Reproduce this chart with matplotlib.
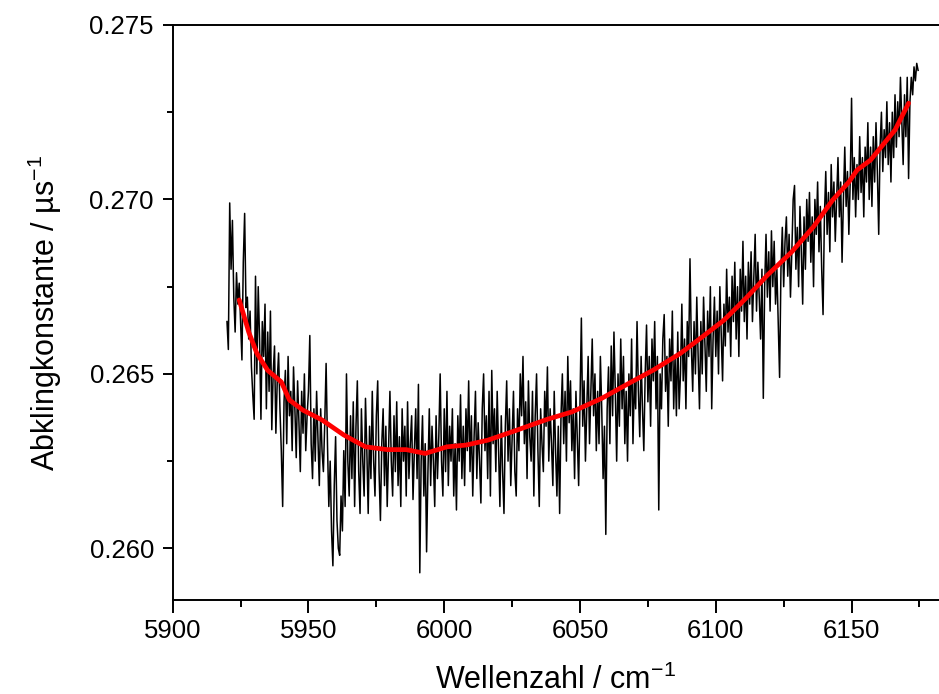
import numpy as np
import matplotlib
matplotlib.use("Agg")
import matplotlib.pyplot as plt
from matplotlib.ticker import MultipleLocator

plt.rcParams['font.family'] = ['Liberation Sans', 'DejaVu Sans']
plt.rcParams['mathtext.fontset'] = 'custom'
plt.rcParams['mathtext.rm'] = 'Liberation Sans'
plt.rcParams['mathtext.it'] = 'Liberation Sans:italic'
plt.rcParams['mathtext.bf'] = 'Liberation Sans:bold'

# measured spectrum: wavenumber grid start/step (cm^-1)
wn_start = 5920.0
wn_step = 0.5
# decay constant in units of 1e-4 us^-1, one row = 5 cm^-1
k_raw = [
    2665, 2657, 2699, 2680, 2694, 2672, 2662, 2679, 2670, 2676,
    2665, 2654, 2682, 2696, 2669, 2672, 2660, 2668, 2652, 2644,
    2637, 2678, 2650, 2675, 2660, 2637, 2665, 2655, 2670, 2640,
    2662, 2645, 2668, 2634, 2650, 2658, 2633, 2648, 2656, 2640,
    2628, 2612, 2642, 2651, 2630, 2655, 2638, 2645, 2628, 2652,
    2640, 2626, 2648, 2636, 2622, 2645, 2633, 2650, 2628, 2638,
    2645, 2661, 2630, 2620, 2640, 2625, 2645, 2632, 2618, 2640,
    2628, 2622, 2636, 2653, 2630, 2612, 2625, 2605, 2595, 2618,
    2632, 2608, 2600, 2598, 2615, 2605, 2628, 2612, 2650, 2625,
    2615, 2638, 2620, 2642, 2612, 2635, 2648, 2622, 2610, 2640,
    2625, 2615, 2643, 2628, 2610, 2635, 2620, 2645, 2625, 2615,
    2638, 2648, 2622, 2608, 2630, 2640, 2618, 2635, 2612, 2628,
    2645, 2625, 2615, 2638, 2622, 2642, 2618, 2632, 2612, 2640,
    2625, 2635, 2615, 2642, 2620, 2630, 2638, 2614, 2628, 2640,
    2620, 2647, 2593, 2625, 2638, 2615, 2630, 2599, 2622, 2640,
    2618, 2635, 2625, 2612, 2638, 2620, 2632, 2650, 2625, 2615,
    2640, 2622, 2645, 2618, 2635, 2625, 2640, 2615, 2630, 2611,
    2638, 2625, 2644, 2620, 2635, 2618, 2640, 2628, 2648, 2622,
    2638, 2615, 2632, 2645, 2620, 2636, 2625, 2613, 2640, 2650,
    2628, 2638, 2620, 2645, 2615, 2651, 2630, 2640, 2622, 2645,
    2628, 2612, 2638, 2622, 2610, 2635, 2648, 2625, 2640, 2618,
    2632, 2645, 2622, 2615, 2640, 2628, 2650, 2638, 2655, 2630,
    2642, 2620, 2648, 2632, 2625, 2645, 2615, 2638, 2650, 2628,
    2612, 2640, 2630, 2622, 2645, 2635, 2652, 2625, 2640, 2630,
    2618, 2645, 2628, 2615, 2635, 2610, 2638, 2650, 2630, 2645,
    2625, 2655, 2636, 2648, 2628, 2640, 2620, 2645, 2632, 2618,
    2642, 2666, 2635, 2648, 2625, 2640, 2655, 2630, 2645, 2660,
    2638, 2650, 2628, 2645, 2630, 2655, 2640, 2620, 2635, 2604,
    2640, 2652, 2630, 2658, 2638, 2662, 2645, 2625, 2650, 2635,
    2660, 2640, 2655, 2630, 2645, 2625, 2650, 2638, 2660, 2630,
    2648, 2640, 2665, 2645, 2632, 2655, 2640, 2628, 2650, 2664,
    2642, 2655, 2635, 2660, 2648, 2665, 2640, 2655, 2611, 2650,
    2640, 2660, 2667, 2645, 2655, 2635, 2660, 2648, 2668, 2640,
    2655, 2638, 2662, 2640, 2650, 2670, 2648, 2660, 2640, 2665,
    2655, 2683, 2658, 2645, 2665, 2650, 2672, 2655, 2640, 2665,
    2650, 2672, 2658, 2645, 2668, 2655, 2675, 2640, 2660, 2672,
    2655, 2668, 2650, 2675, 2662, 2648, 2670, 2658, 2680, 2662,
    2672, 2655, 2678, 2665, 2682, 2660, 2675, 2655, 2680, 2668,
    2688, 2665, 2678, 2660, 2682, 2670, 2685, 2665, 2678, 2690,
    2668, 2682, 2672, 2660, 2680, 2643, 2675, 2690, 2672, 2685,
    2668, 2691, 2675, 2688, 2670, 2680, 2665, 2649, 2680, 2692,
    2675, 2688, 2695, 2678, 2690, 2672, 2685, 2700, 2704, 2680,
    2692, 2675, 2698, 2685, 2670, 2695, 2680, 2700, 2688, 2702,
    2682, 2695, 2675, 2700, 2690, 2705, 2685, 2698, 2680, 2667,
    2695, 2708, 2690, 2702, 2685, 2710, 2695, 2705, 2688, 2700,
    2712, 2695, 2705, 2682, 2700, 2715, 2698, 2708, 2690, 2705,
    2729, 2700, 2712, 2695, 2710, 2700, 2718, 2702, 2712, 2695,
    2715, 2705, 2722, 2700, 2715, 2698, 2718, 2705, 2722, 2708,
    2690, 2715, 2725, 2708, 2720, 2712, 2728, 2710, 2722, 2705,
    2725, 2712, 2730, 2715, 2728, 2718, 2735, 2722, 2710, 2730,
    2718, 2735, 2706, 2728, 2735, 2730, 2738, 2734, 2739, 2737,
]

# smoothed curve (red)
smooth_x = [5924.5, 5926, 5928, 5931, 5935, 5940, 5943, 5948, 5955, 5963,
            5971, 5979, 5986, 5993, 6001, 6008, 6016, 6025, 6038, 6047,
            6058, 6068, 6077, 6087, 6095, 6103, 6111, 6119, 6128, 6136,
            6143, 6149, 6152, 6157, 6162, 6166, 6171]
smooth_y = [0.26712, 0.26673, 0.26620, 0.26559, 0.26510, 0.26477, 0.26425,
            0.26396, 0.26368, 0.26325, 0.26291, 0.26283, 0.26283, 0.26272,
            0.26291, 0.26296, 0.26310, 0.26334, 0.26370, 0.26391, 0.26430,
            0.26473, 0.26511, 0.26559, 0.26606, 0.26654, 0.26716, 0.26783,
            0.26850, 0.26922, 0.26998, 0.27050, 0.27084, 0.27113, 0.27161,
            0.27199, 0.27276]

x_ticks = [5900, 5950, 6000, 6050, 6100, 6150]
y_ticks = [0.260, 0.265, 0.270, 0.275]

k = np.array(k_raw) / 10000.0
wn = wn_start + wn_step * np.arange(len(k))

fig = plt.figure(figsize=(9.39, 6.94), dpi=100)
ax = fig.add_axes([0.1839, 0.13545, 0.8161, 0.82853])

ax.plot(wn, k, color='black', lw=1.1)
ax.plot(smooth_x, smooth_y, color='#ff0000', lw=3.4, solid_capstyle='round')

ax.set_xlim(5900, 6182.2)
ax.set_ylim(0.25852, 0.275)
ax.set_xticks(x_ticks)
ax.set_yticks(y_ticks)
ax.set_xticklabels([str(v) for v in x_ticks])
ax.set_yticklabels([f"{v:.3f}" for v in y_ticks])
ax.xaxis.set_minor_locator(MultipleLocator(25))
ax.yaxis.set_minor_locator(MultipleLocator(0.0025))

for s in ['left', 'bottom', 'top']:
    ax.spines[s].set_linewidth(1.4)
ax.spines['right'].set_visible(False)

ax.tick_params(axis='x', which='major', direction='out', length=9, width=1.4,
               labelsize=18.5, pad=5, top=False)
ax.tick_params(axis='x', which='minor', direction='out', length=4.8, width=1.4, top=False)
ax.tick_params(axis='y', which='major', direction='out', length=7.5, width=1.4,
               labelsize=18.5, pad=6, right=False)
ax.tick_params(axis='y', which='minor', direction='out', length=4.5, width=1.4, right=False)

ax.set_xlabel(r"Wellenzahl / cm$^{-1}$", fontsize=22, labelpad=15)
ax.set_ylabel(r"Abklingkonstante / µs$^{-1}$", fontsize=22, labelpad=18)

fig.savefig('out.png', dpi=100)
